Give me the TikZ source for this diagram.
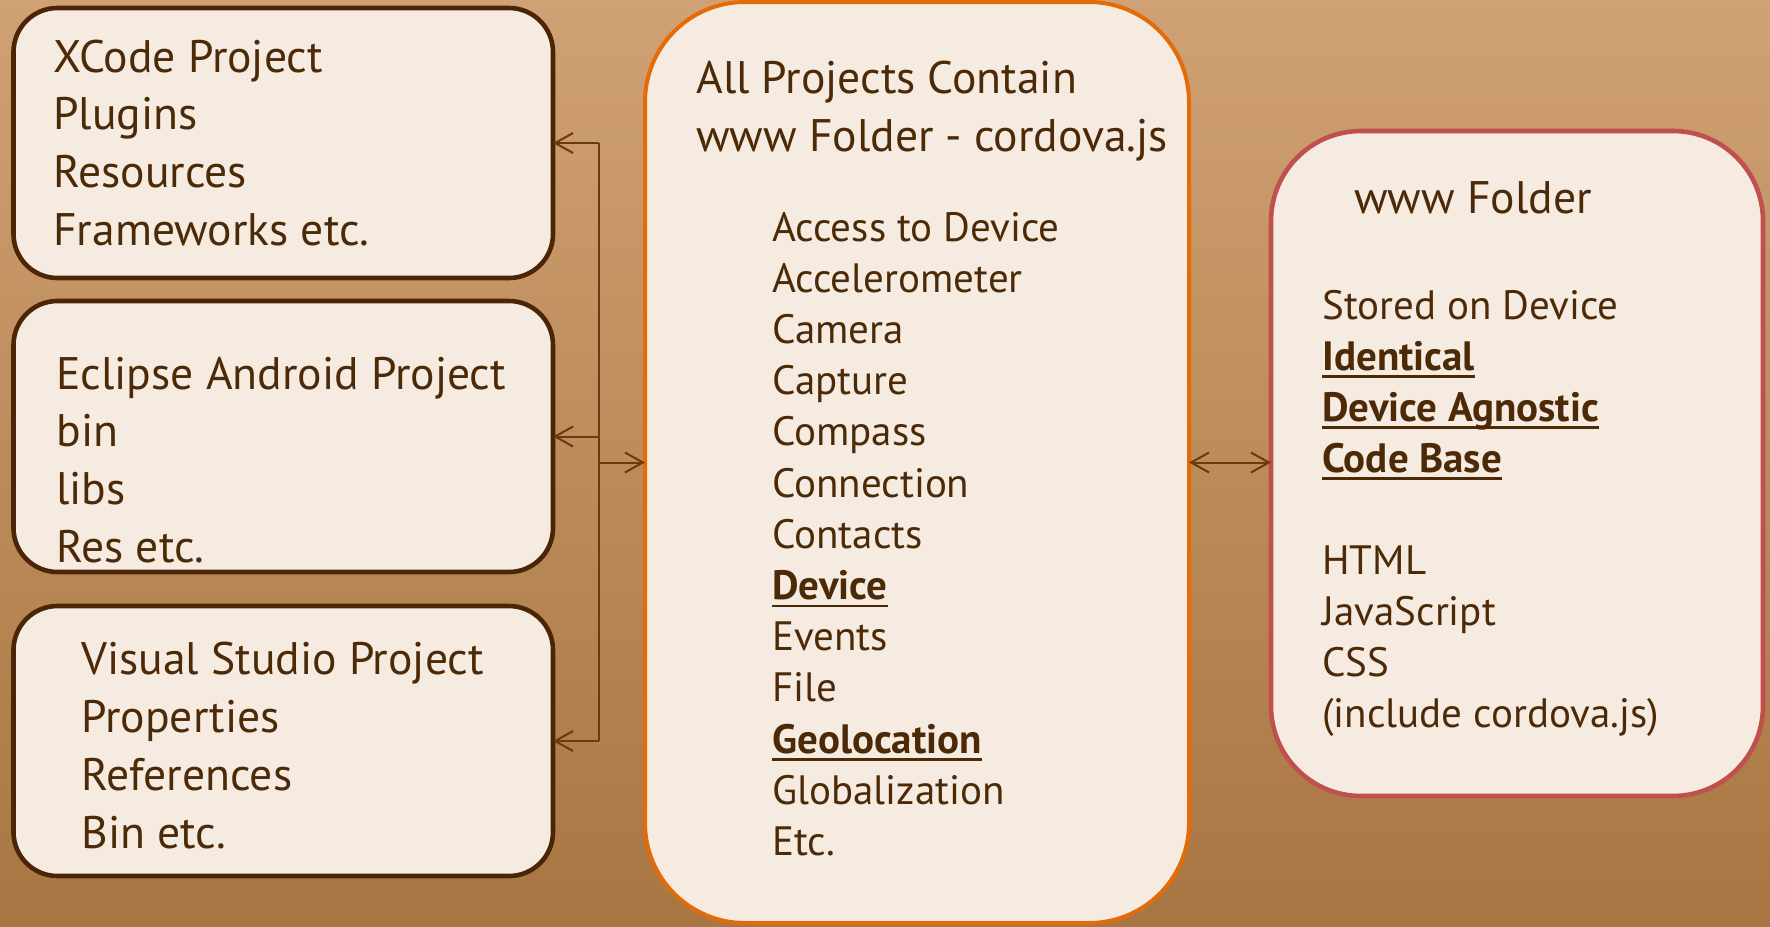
\documentclass[tikz,border=0pt]{standalone}
\usepackage{fontspec}
\setmainfont{PT Sans}
\usetikzlibrary{arrows.meta}
\definecolor{bgtop}{HTML}{D0A174}
\definecolor{bgbot}{HTML}{A87642}
\definecolor{boxfill}{HTML}{F5EBE1}
\definecolor{txtc}{HTML}{4D2A07}
\definecolor{darkb}{HTML}{4A2506}
\definecolor{orng}{HTML}{E36C09}
\definecolor{redb}{HTML}{C0504D}
\definecolor{arrc}{HTML}{6B3A0C}
\newcommand\ulb[1]{\setbox0=\hbox{\bfseries #1}\rlap{\rule[-4pt]{\wd0}{1.3pt}}\box0}
\tikzset{
  lbox/.style={draw=darkb, line width=2.3pt, fill=boxfill, rounded corners=22pt,
    inner sep=0pt, outer sep=0pt, minimum width=269.75pt, minimum height=135pt},
  cbox/.style={draw=orng, line width=2pt, fill=boxfill, rounded corners=50pt,
    inner sep=0pt, outer sep=0pt},
  rbox/.style={draw=redb, line width=2.3pt, fill=boxfill, rounded corners=45pt,
    inner sep=0pt, outer sep=0pt},
  big/.style={anchor=base west, inner sep=0pt, text=txtc, font=\fontsize{22.8pt}{28pt}\selectfont},
  small/.style={anchor=base west, inner sep=0pt, text=txtc, font=\fontsize{20.5pt}{25pt}\selectfont},
  conn/.style={draw=arrc, line width=1pt},
  tip/.style={conn, -{Straight Barb[length=9pt,width=10pt]}},
  dtip/.style={conn, {Straight Barb[length=9pt,width=10pt]}-{Straight Barb[length=9pt,width=10pt]}}
}
\begin{document}
\begin{tikzpicture}[x=0.5pt,y=-0.5pt]
\shade[top color=bgtop,bottom color=bgbot] (0,0) rectangle (1770,926);
\useasboundingbox (0,0) rectangle (1770,926);

% boxes
\node[lbox] (xcode) at (283.25,143) {};
\node[lbox, minimum height=135.5pt] (eclipse) at (283.25,436.5) {};
\node[lbox] (vs) at (283.25,741) {};
\node[cbox, minimum width=272pt, minimum height=460.5pt] (center) at (917,462.5) {};
\node[rbox, minimum width=246pt, minimum height=332.5pt] (www) at (1517,463.5) {};

% left box texts
\node[big] (x1) at (53,72) {XCode Project};
\node[big] (x2) at (53,129) {Plugins};
\node[big] (x3) at (53,187) {Resources};
\node[big] (x4) at (53,245) {Frameworks etc.};

\node[big] (e1) at (56,389) {Eclipse Android Project};
\node[big] (e2) at (56,446) {bin};
\node[big] (e3) at (56,504) {libs};
\node[big] (e4) at (56,562) {Res etc.};

\node[big] (v1) at (81,674) {Visual Studio Project};
\node[big] (v2) at (81,732) {Properties};
\node[big] (v3) at (81,790) {References};
\node[big] (v4) at (81,848) {Bin etc.};

% center texts
\node[big] (h1) at (696,93) {All Projects Contain};
\node[big] (h2) at (696,151) {www Folder - cordova.js};
\foreach \t [count=\i] in {Access to Device, Accelerometer, Camera, Capture, Compass,
  Connection, Contacts, {\ulb{Device}}, Events, File, {\ulb{Geolocation}},
  Globalization, Etc.}
  \node[small] (c\i) at (772,{241+(\i-1)*51.2}) {\t};

% right texts
\node[big] (r0) at (1354,213) {www Folder};
\node[small] (r1) at (1322,319) {Stored on Device};
\node[small] (r2) at (1322,370) {\ulb{Identical}};
\node[small] (r3) at (1322,421) {\ulb{Device Agnostic}};
\node[small] (r4) at (1322,472) {\ulb{Code Base}};
\node[small] (r5) at (1322,574) {HTML};
\node[small] (r6) at (1322,625) {JavaScript};
\node[small] (r7) at (1322,676) {CSS};
\node[small] (r8) at (1322,727) {(include cordova.js)};

% connectors
\coordinate (jt) at (599,143);
\coordinate (jm) at (599,436.5);
\coordinate (jc) at (599,462.5);
\coordinate (jb) at (599,741);
\draw[conn] (jt) -- (jb);
\draw[tip] (jt) -- (xcode.east);
\draw[tip] (jm) -- (eclipse.east);
\draw[tip] (jb) -- (vs.east);
\draw[tip] (jc) -- (center.west);
\draw[dtip] (center.east) -- (center.east -| www.west);
\end{tikzpicture}
\end{document}
